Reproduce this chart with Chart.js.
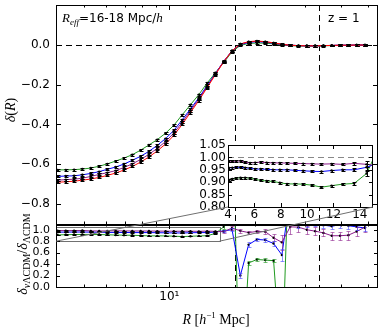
<!DOCTYPE html>
<html>
<head>
<meta charset="utf-8">
<script src="https://cdn.jsdelivr.net/npm/chart.js@4.4.1/dist/chart.umd.min.js"></script>
<style>
  html, body { margin: 0; padding: 0; background: #fff; }
  #wrap { position: relative; width: 384px; height: 332px; }
  #wrap canvas { position: absolute; left: 0; top: 0; }
</style>
</head>
<body>
<div id="wrap">
  <canvas id="mainChart" width="384" height="332"></canvas>
  <canvas id="insetChart" width="384" height="332"></canvas>
</div>
<script>
// bin centres R [Mpc/h]
const radius = [4.05, 4.33, 4.63, 4.95, 5.30, 5.67, 6.06, 6.48, 6.93, 7.41,
                7.93, 8.48, 9.07, 9.70, 10.37, 11.09, 11.86, 12.69, 13.57, 14.51,
                15.52, 16.60, 17.75, 18.98, 20.30, 21.71, 23.22, 24.83, 26.56, 28.40,
                30.38, 32.49, 34.74, 37.16, 39.74, 42.50, 45.45, 48.61];

// void density profiles delta(R)
const deltaLCDM = [-0.690, -0.688, -0.685, -0.680, -0.674, -0.666, -0.656, -0.644, -0.629, -0.611,
                   -0.589, -0.563, -0.533, -0.498, -0.455, -0.400, -0.340, -0.280, -0.215, -0.150,
                   -0.085, -0.030, 0.004, 0.016, 0.019, 0.016, 0.010, 0.003, -0.002, -0.004,
                   -0.005, -0.005, -0.004, -0.003, -0.002, -0.002, -0.001, -0.001];
const deltaNu1 = [-0.680, -0.677, -0.675, -0.670, -0.661, -0.651, -0.642, -0.632, -0.616, -0.598,
                  -0.576, -0.550, -0.520, -0.486, -0.443, -0.389, -0.331, -0.272, -0.210, -0.146,
                  -0.082, -0.031, 0.004, 0.015, 0.018, 0.015, 0.009, 0.002, -0.002, -0.004,
                  -0.005, -0.005, -0.004, -0.003, -0.002, -0.002, -0.001, -0.001];
const deltaNu2 = [-0.661, -0.659, -0.658, -0.653, -0.646, -0.637, -0.625, -0.614, -0.599, -0.580,
                  -0.560, -0.535, -0.505, -0.471, -0.430, -0.377, -0.322, -0.266, -0.204, -0.144,
                  -0.083, -0.030, 0.001, 0.012, 0.016, 0.013, 0.008, 0.002, -0.002, -0.004,
                  -0.005, -0.005, -0.004, -0.003, -0.002, -0.002, -0.001, -0.001];
const deltaNu3 = [-0.628, -0.628, -0.627, -0.624, -0.619, -0.610, -0.598, -0.584, -0.569, -0.552,
                  -0.529, -0.503, -0.476, -0.444, -0.404, -0.352, -0.301, -0.250, -0.192, -0.140,
                  -0.089, -0.035, -0.003, 0.007, 0.009, 0.008, 0.005, -0.002, -0.004, -0.006,
                  -0.007, -0.007, -0.005, -0.004, -0.003, -0.003, -0.002, -0.002];
const errDelta = [0.005, 0.005, 0.005, 0.005, 0.005, 0.005, 0.005, 0.005, 0.005, 0.005,
                  0.005, 0.005, 0.005, 0.005, 0.005, 0.005, 0.005, 0.005, 0.005, 0.005,
                  0.004, 0.004, 0.004, 0.004, 0.004, 0.004, 0.004, 0.004, 0.004, 0.004,
                  0.004, 0.004, 0.004, 0.004, 0.004, 0.004, 0.004, 0.004];

// ratios delta_nuLCDM / delta_LCDM
const ratioNu1 = [0.985, 0.984, 0.985, 0.986, 0.980, 0.978, 0.979, 0.981, 0.979, 0.978,
                  0.978, 0.977, 0.976, 0.975, 0.974, 0.973, 0.974, 0.972, 0.976, 0.972,
                  0.965, 1.030, 0.980, 0.950, 0.970, 0.965, 0.860, 0.780, 1.050, 1.045,
                  1.000, 0.975, 0.945, 0.895, 0.895, 0.905, 0.970, 1.045];
const ratioNu2 = [0.958, 0.958, 0.960, 0.960, 0.958, 0.956, 0.953, 0.953, 0.952, 0.950,
                  0.950, 0.950, 0.948, 0.946, 0.944, 0.943, 0.947, 0.950, 0.950, 0.960,
                  0.980, 1.000, 0.200, 0.740, 0.830, 0.820, 0.760, 0.560, 1.600, 1.090,
                  1.100, 1.120, 1.080, 1.060, 1.090, 1.070, 1.050, 1.030];
const ratioNu3 = [0.910, 0.913, 0.916, 0.918, 0.918, 0.916, 0.912, 0.907, 0.905, 0.903,
                  0.898, 0.893, 0.893, 0.892, 0.888, 0.880, 0.886, 0.892, 0.895, 0.935,
                  1.050, 3.000, -2.000, 0.420, 0.480, 0.470, 0.460, -1.500, 3.000, 1.400,
                  1.300, 1.250, 1.300, 1.350, 1.300, 1.250, 1.300, 1.200];
const errNu1 = [0.004, 0.004, 0.004, 0.004, 0.004, 0.004, 0.004, 0.004, 0.004, 0.004,
                0.004, 0.004, 0.004, 0.004, 0.004, 0.004, 0.004, 0.004, 0.006, 0.012,
                0.02, 0.03, 0.04, 0.03, 0.03, 0.04, 0.06, 0.13, 0.12, 0.08,
                0.07, 0.07, 0.06, 0.07, 0.07, 0.08, 0.08, 0.09];
const errNu2 = [0.004, 0.004, 0.004, 0.004, 0.004, 0.004, 0.004, 0.004, 0.004, 0.004,
                0.004, 0.004, 0.004, 0.004, 0.004, 0.004, 0.004, 0.004, 0.006, 0.012,
                0.02, 0.03, 0.05, 0.04, 0.03, 0.03, 0.04, 0.11, 0.10, 0.06,
                0.05, 0.05, 0.05, 0.05, 0.06, 0.06, 0.06, 0.05];
const errNu3 = [0.004, 0.004, 0.004, 0.004, 0.004, 0.004, 0.004, 0.004, 0.004, 0.004,
                0.004, 0.004, 0.004, 0.004, 0.004, 0.004, 0.004, 0.004, 0.006, 0.012,
                0.03, 0.05, 0.05, 0.04, 0.03, 0.03, 0.03, 0.10, 0.10, 0.10,
                0.10, 0.10, 0.10, 0.10, 0.10, 0.10, 0.10, 0.10];

// axes
const mainYTicks = [-0.8, -0.6, -0.4, -0.2, 0.0];
const ratioYTicks = [0.0, 0.2, 0.4, 0.6, 0.8, 1.0];
const xMajorTicks = [10];
const xMinorTicks = [5, 6, 7, 8, 9, 20, 30, 40, 50];
const insetXTicks = [4, 6, 8, 10, 12, 14];
const insetYTicks = [0.80, 0.85, 0.90, 0.95, 1.00, 1.05];
const markerRadii = [17, 33.5];   // R_eff and 2 R_eff

const colors = {
    lcdm: '#ff0000',
    nu1: '#8b1a8b',
    nu2: '#0000ff',
    nu3: '#1f9a1f',
    zoom: '#707070'
};
const errColors = {
    nu1: 'rgba(140, 30, 140, 0.6)',
    nu2: 'rgba(70, 70, 255, 0.6)',
    nu3: 'rgba(30, 150, 30, 0.6)'
};
const SANS = '"DejaVu Sans", sans-serif';
const MATH = '"Liberation Serif", "DejaVu Serif", serif';
const firstColouredBin = 20;

function points(values) {
    return radius.map((r, i) => ({ x: r, y: values[i] }));
}

function series(values, color, axis, errors, errColor) {
    return {
        data: points(values),
        yAxisID: axis,
        borderColor: color,
        borderWidth: 1,
        pointRadius: 1.2,
        pointBackgroundColor: '#000',
        pointBorderWidth: 0,
        tension: 0,
        fill: false,
        errors: errors,
        errColor: errColor || '#000'
    };
}

function fmt(v, digits) {
    return (v < -1e-9 ? '\u2212' : '') + Math.abs(v).toFixed(digits);
}

function line(ctx, x0, y0, x1, y1) {
    ctx.beginPath();
    ctx.moveTo(x0, y0);
    ctx.lineTo(x1, y1);
    ctx.stroke();
}

function rich(ctx, x, y, parts) {
    let cx = x;
    parts.forEach(p => {
        ctx.font = p.font;
        ctx.fillText(p.t, cx, y + (p.dy || 0));
        cx += ctx.measureText(p.t).width;
    });
}

function richWidth(ctx, parts) {
    let w = 0;
    parts.forEach(p => { ctx.font = p.font; w += ctx.measureText(p.t).width; });
    return w;
}

function rotatedRich(ctx, x, y, parts) {
    ctx.save();
    ctx.translate(x, y);
    ctx.rotate(-Math.PI / 2);
    rich(ctx, -richWidth(ctx, parts) / 2, 0, parts);
    ctx.restore();
}

function drawErrorBars(chart) {
    const ctx = chart.ctx;
    chart.data.datasets.forEach((ds, i) => {
        if (!ds.errors) return;
        const meta = chart.getDatasetMeta(i);
        const xs = chart.scales[meta.xAxisID];
        const ys = chart.scales[meta.yAxisID];
        ctx.save();
        ctx.beginPath();
        ctx.rect(xs.left, ys.top, xs.right - xs.left, ys.bottom - ys.top);
        ctx.clip();
        ctx.lineWidth = 1;
        ds.data.forEach((p, k) => {
            const px = Math.round(xs.getPixelForValue(p.x)) + 0.5;
            const top = Math.round(ys.getPixelForValue(p.y + ds.errors[k])) + 0.5;
            const bot = Math.round(ys.getPixelForValue(p.y - ds.errors[k])) + 0.5;
            ctx.strokeStyle = k < firstColouredBin ? '#000' : ds.errColor;
            ctx.beginPath();
            ctx.moveTo(px, top); ctx.lineTo(px, bot);
            ctx.moveTo(px - 2, top); ctx.lineTo(px + 2, top);
            ctx.moveTo(px - 2, bot); ctx.lineTo(px + 2, bot);
            ctx.stroke();
        });
        ctx.restore();
    });
}

// inward matplotlib style ticks
function xTickMarks(ctx, xs, top, bottom, values, len) {
    ctx.beginPath();
    values.forEach(v => {
        const px = Math.round(xs.getPixelForValue(v)) + 0.5;
        ctx.moveTo(px, top); ctx.lineTo(px, top + len);
        ctx.moveTo(px, bottom); ctx.lineTo(px, bottom - len);
    });
    ctx.stroke();
}

function yTickMarks(ctx, ys, left, right, values, len) {
    ctx.beginPath();
    values.forEach(v => {
        const py = Math.round(ys.getPixelForValue(v)) + 0.5;
        ctx.moveTo(left, py); ctx.lineTo(left + len, py);
        ctx.moveTo(right, py); ctx.lineTo(right - len, py);
    });
    ctx.stroke();
}

function frame(ctx, left, top, right, bottom) {
    ctx.strokeRect(Math.round(left) + 0.5, Math.round(top) + 0.5,
                   Math.round(right - left) - 1, Math.round(bottom - top));
}

function noPadding(s) {
    s.paddingTop = 0; s.paddingBottom = 0; s.paddingLeft = 0; s.paddingRight = 0;
}

const panelDecor = {
    id: 'panelDecor',
    beforeDatasetsDraw(chart) {
        const { ctx, scales: { x, y, y2 } } = chart;
        ctx.save();
        ctx.strokeStyle = '#000';
        ctx.lineWidth = 1;
        ctx.setLineDash([6, 4]);
        const zero = Math.round(y.getPixelForValue(0)) + 0.5;
        line(ctx, x.left, zero, x.right, zero);
        markerRadii.forEach(r => {
            const px = Math.round(x.getPixelForValue(r)) + 0.5;
            line(ctx, px, y.top, px, y2.bottom);
        });
        ctx.setLineDash([]);
        // region shown in the inset
        ctx.strokeStyle = colors.zoom;
        const bx0 = Math.round(x.getPixelForValue(4)) + 0.5;
        const bx1 = Math.round(x.getPixelForValue(15)) + 0.5;
        const by0 = Math.round(y2.getPixelForValue(1.05)) + 0.5;
        const by1 = Math.round(y2.getPixelForValue(0.8)) + 0.5;
        ctx.strokeRect(bx0, by0, bx1 - bx0, by1 - by0);
        ctx.restore();
    },
    afterDatasetsDraw(chart) {
        const { ctx, scales: { x, y, y2 } } = chart;
        drawErrorBars(chart);
        ctx.save();
        ctx.strokeStyle = '#000';
        ctx.lineWidth = 1;
        frame(ctx, x.left, y.top, x.right, y.bottom);
        frame(ctx, x.left, y2.top, x.right, y2.bottom);
        line(ctx, x.left, y2.top + 1.5, x.right, y2.top + 1.5);
        [[y.top, y.bottom], [y2.top, y2.bottom]].forEach(([t, b]) => {
            xTickMarks(ctx, x, t, b, xMajorTicks, 5);
            xTickMarks(ctx, x, t, b, xMinorTicks, 2.5);
        });
        yTickMarks(ctx, y, x.left, x.right, mainYTicks, 5);
        yTickMarks(ctx, y2, x.left, x.right, ratioYTicks, 4);

        ctx.fillStyle = '#000';
        ctx.textBaseline = 'alphabetic';
        ctx.textAlign = 'left';
        rich(ctx, 62, 22, [
            { t: 'R', font: 'italic 13px ' + MATH },
            { t: 'eff', font: 'italic 9px ' + MATH, dy: 3 },
            { t: '=16-18 Mpc/', font: '12px ' + SANS },
            { t: 'h', font: 'italic 13px ' + MATH }
        ]);
        rich(ctx, 328, 22, [{ t: 'z = 1', font: '12px ' + SANS }]);

        rotatedRich(ctx, 15, 110, [
            { t: '\u03b4', font: 'italic 14px ' + MATH },
            { t: '(', font: '14px ' + MATH },
            { t: 'R', font: 'italic 14px ' + MATH },
            { t: ')', font: '14px ' + MATH }
        ]);
        rotatedRich(ctx, 27, 254, [
            { t: '\u03b4', font: 'italic 14px ' + MATH },
            { t: '\u03bd', font: 'italic 10px ' + MATH, dy: 3 },
            { t: '\u039bCDM', font: '10px ' + MATH, dy: 3 },
            { t: '/', font: '14px ' + MATH },
            { t: '\u03b4', font: 'italic 14px ' + MATH },
            { t: '\u039bCDM', font: '10px ' + MATH, dy: 3 }
        ]);
        const xTitle = [
            { t: 'R', font: 'italic 14px ' + MATH },
            { t: ' [', font: '14px ' + MATH },
            { t: 'h', font: 'italic 14px ' + MATH },
            { t: '\u22121', font: '9px ' + MATH, dy: -6 },
            { t: ' Mpc]', font: '14px ' + MATH }
        ];
        rich(ctx, 216 - richWidth(ctx, xTitle) / 2, 324, xTitle);
        ctx.restore();
    }
};

const tickFont = { family: SANS, size: 12 };

const mainChart = new Chart(document.getElementById('mainChart'), {
    type: 'line',
    data: {
        datasets: [
            series(deltaLCDM, colors.lcdm, 'y', errDelta),
            series(deltaNu1, colors.nu1, 'y', errDelta),
            series(deltaNu2, colors.nu2, 'y', errDelta),
            series(deltaNu3, colors.nu3, 'y', errDelta),
            series(ratioNu1, colors.nu1, 'y2', errNu1, errColors.nu1),
            series(ratioNu2, colors.nu2, 'y2', errNu2, errColors.nu2),
            series(ratioNu3, colors.nu3, 'y2', errNu3, errColors.nu3)
        ]
    },
    options: {
        responsive: false,
        animation: false,
        devicePixelRatio: 1,
        events: [],
        layout: { padding: { left: 0, right: 6, top: 5, bottom: 0 } },
        plugins: { legend: { display: false }, tooltip: { enabled: false } },
        scales: {
            x: {
                type: 'logarithmic',
                min: 4,
                max: 54,
                grid: { display: false, drawTicks: false },
                border: { display: false },
                afterBuildTicks: s => { s.ticks = xMajorTicks.map(v => ({ value: v })); },
                afterFit: s => { s.height = 45; noPadding(s); },
                ticks: {
                    callback: v => (v === 10 ? '10\u00b9' : ''),
                    font: tickFont, color: '#000', padding: 3,
                    maxRotation: 0, autoSkip: false
                }
            },
            y: {
                stack: 'panels',
                stackWeight: 219,
                weight: 1,
                min: -0.9,
                max: 0.2,
                grid: { display: false, drawTicks: false },
                border: { display: false },
                afterBuildTicks: s => { s.ticks = mainYTicks.map(v => ({ value: v })); },
                afterFit: s => { s.width = 56; noPadding(s); },
                ticks: { callback: v => fmt(v, 1), font: tickFont, color: '#000', padding: 6, autoSkip: false }
            },
            y2: {
                stack: 'panels',
                stackWeight: 63,
                weight: 0,
                min: 0,
                max: 1.1,
                grid: { display: false, drawTicks: false },
                border: { display: false },
                afterBuildTicks: s => { s.ticks = ratioYTicks.map(v => ({ value: v })); },
                afterFit: s => { s.width = 56; noPadding(s); },
                ticks: { callback: v => fmt(v, 1), font: { family: SANS, size: 11 }, color: '#000', padding: 6, autoSkip: false }
            }
        }
    },
    plugins: [panelDecor]
});

const insetDecor = {
    id: 'insetDecor',
    beforeDraw(chart) {
        const a = chart.chartArea;
        chart.ctx.save();
        chart.ctx.fillStyle = '#fff';
        chart.ctx.fillRect(a.left, a.top, a.right - a.left, a.bottom - a.top);
        chart.ctx.restore();
    },
    beforeDatasetsDraw(chart) {
        const { ctx, scales: { x, y } } = chart;
        ctx.save();
        ctx.strokeStyle = '#888';
        ctx.lineWidth = 1;
        ctx.setLineDash([6, 4]);
        const one = Math.round(y.getPixelForValue(1)) + 0.5;
        line(ctx, x.left, one, x.right, one);
        ctx.restore();
    },
    afterDatasetsDraw(chart) {
        const { ctx, scales: { x, y } } = chart;
        drawErrorBars(chart);
        ctx.save();
        ctx.strokeStyle = '#000';
        ctx.lineWidth = 1;
        frame(ctx, x.left, y.top, x.right, y.bottom);
        xTickMarks(ctx, x, y.top, y.bottom, insetXTicks, 4);
        yTickMarks(ctx, y, x.left, x.right, insetYTicks, 4);
        // connectors to the zoomed region of the ratio panel
        const mx = mainChart.scales.x;
        const my = mainChart.scales.y2;
        ctx.strokeStyle = colors.zoom;
        line(ctx, mx.getPixelForValue(4), my.getPixelForValue(0.8), x.left, y.bottom);
        line(ctx, mx.getPixelForValue(15), my.getPixelForValue(0.8), x.right, y.bottom);
        ctx.restore();
    }
};

new Chart(document.getElementById('insetChart'), {
    type: 'line',
    data: {
        datasets: [
            series(ratioNu1, colors.nu1, 'y', errNu1, errColors.nu1),
            series(ratioNu2, colors.nu2, 'y', errNu2, errColors.nu2),
            series(ratioNu3, colors.nu3, 'y', errNu3, errColors.nu3)
        ]
    },
    options: {
        responsive: false,
        animation: false,
        devicePixelRatio: 1,
        events: [],
        layout: { padding: { left: 188, right: 11, top: 145, bottom: 105 } },
        plugins: { legend: { display: false }, tooltip: { enabled: false } },
        scales: {
            x: {
                type: 'linear',
                min: 4,
                max: 15,
                grid: { display: false, drawTicks: false },
                border: { display: false },
                afterBuildTicks: s => { s.ticks = insetXTicks.map(v => ({ value: v })); },
                afterFit: s => { s.height = 20; noPadding(s); },
                ticks: { callback: v => String(v), font: tickFont, color: '#000', padding: 1, maxRotation: 0, autoSkip: false }
            },
            y: {
                min: 0.8,
                max: 1.05,
                grid: { display: false, drawTicks: false },
                border: { display: false },
                afterBuildTicks: s => { s.ticks = insetYTicks.map(v => ({ value: v })); },
                afterFit: s => { s.width = 40; noPadding(s); },
                ticks: { callback: v => v.toFixed(2), font: tickFont, color: '#000', padding: 2, autoSkip: false }
            }
        }
    },
    plugins: [insetDecor]
});
</script>
</body>
</html>
